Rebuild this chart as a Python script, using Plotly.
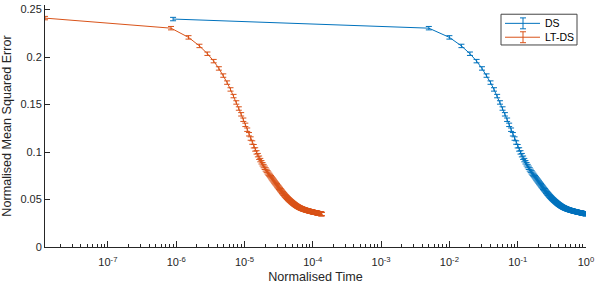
import math
import plotly.graph_objects as go

# ---------------- data ----------------
# DS: normalised time in thousandths (first value = initial evaluation)
ds_time_milli = [0.0009,
    5, 10, 15, 20, 25, 30, 35, 40, 45, 50,
    55, 60, 65, 70, 75, 80, 85, 90, 95, 100,
    105, 110, 115, 120, 125, 130, 135, 140, 145, 150,
    155, 160, 165, 170, 175, 180, 185, 190, 195, 200,
    205, 210, 215, 220, 225, 230, 235, 240, 245, 250,
    255, 260, 265, 270, 275, 280, 285, 290, 295, 300,
    305, 310, 315, 320, 325, 330, 335, 340, 345, 350,
    355, 360, 365, 370, 375, 380, 385, 390, 395, 400,
    405, 410, 415, 420, 425, 430, 435, 440, 445, 450,
    455, 460, 465, 470, 475, 480, 485, 490, 495, 500,
    505, 510, 515, 520, 525, 530, 535, 540, 545, 550,
    555, 560, 565, 570, 575, 580, 585, 590, 595, 600,
    605, 610, 615, 620, 625, 630, 635, 640, 645, 650,
    655, 660, 665, 670, 675, 680, 685, 690, 695, 700,
    705, 710, 715, 720, 725, 730, 735, 740, 745, 750,
    755, 760, 765, 770, 775, 780, 785, 790, 795, 800,
    805, 810, 815, 820, 825, 830, 835, 840, 845, 850,
    855, 860, 865, 870, 875, 880, 885, 890, 895, 900,
    905, 910, 915, 920, 925, 930, 935, 940, 945, 950,
    955, 960, 965, 970, 975, 980, 985, 990, 995, 1000]

# LT-DS: normalised time in millionths
ltds_time_micro = [0.012,
    0.840, 1.515, 2.190, 2.865, 3.540, 4.215, 4.890, 5.565, 6.240, 6.915,
    7.590, 8.265, 8.940, 9.615, 10.29, 10.965, 11.64, 12.315, 12.99, 13.665,
    14.34, 15.02, 15.69, 16.37, 17.04, 17.72, 18.39, 19.07, 19.74, 20.42,
    21.09, 21.77, 22.44, 23.12, 23.79, 24.47, 25.14, 25.82, 26.49, 27.17,
    27.8, 28.5, 29.2, 29.9, 30.5, 31.2, 31.9, 32.6, 33.2, 33.9,
    34.6, 35.3, 35.9, 36.6, 37.3, 38.0, 38.6, 39.3, 40.0, 40.7,
    41.3, 42.0, 42.7, 43.4, 44.0, 44.7, 45.4, 46.1, 46.7, 47.4,
    48.1, 48.8, 49.4, 50.1, 50.8, 51.5, 52.1, 52.8, 53.5, 54.2,
    54.8, 55.5, 56.2, 56.9, 57.5, 58.2, 58.9, 59.6, 60.2, 60.9,
    61.6, 62.3, 62.9, 63.6, 64.3, 65.0, 65.6, 66.3, 67.0, 67.7,
    68.3, 69.0, 69.7, 70.4, 71.0, 71.7, 72.4, 73.1, 73.7, 74.4,
    75.1, 75.8, 76.4, 77.1, 77.8, 78.5, 79.1, 79.8, 80.5, 81.2,
    81.8, 82.5, 83.2, 83.9, 84.5, 85.2, 85.9, 86.6, 87.2, 87.9,
    88.6, 89.3, 89.9, 90.6, 91.3, 92.0, 92.6, 93.3, 94.0, 94.7,
    95.3, 96.0, 96.7, 97.4, 98.0, 98.7, 99.4, 100.1, 100.7, 101.4,
    102.1, 102.8, 103.4, 104.1, 104.8, 105.5, 106.1, 106.8, 107.5, 108.2,
    108.8, 109.5, 110.2, 110.9, 111.5, 112.2, 112.9, 113.6, 114.2, 114.9,
    115.6, 116.3, 116.9, 117.6, 118.3, 119.0, 119.6, 120.3, 121.0, 121.7,
    122.3, 123.0, 123.7, 124.4, 125.0, 125.7, 126.4, 127.1, 127.7, 128.4,
    129.1, 129.8, 130.4, 131.1, 131.8, 132.5, 133.1, 133.8, 134.5, 135.2]

# normalised mean squared error (same per-iteration values for both methods)
ds_mse = [0.2400,
    0.2304, 0.2207, 0.2117, 0.2035, 0.1957, 0.1880, 0.1805, 0.1731, 0.1659, 0.1589,
    0.1522, 0.1458, 0.1397, 0.1340, 0.1286, 0.1235, 0.1187, 0.1142, 0.1100, 0.1061,
    0.1027, 0.0996, 0.0967, 0.0940, 0.0915, 0.0892, 0.0871, 0.0852, 0.0834, 0.0817,
    0.0801, 0.0786, 0.0772, 0.0759, 0.0747, 0.0735, 0.0723, 0.0712, 0.0701, 0.0690,
    0.0680, 0.0670, 0.0660, 0.0650, 0.0641, 0.0632, 0.0623, 0.0614, 0.0606, 0.0598,
    0.0590, 0.0582, 0.0574, 0.0567, 0.0560, 0.0554, 0.0547, 0.0541, 0.0535, 0.0529,
    0.0524, 0.0518, 0.0513, 0.0508, 0.0503, 0.0499, 0.0494, 0.0490, 0.0486, 0.0482,
    0.0478, 0.0474, 0.0471, 0.0467, 0.0463, 0.0460, 0.0457, 0.0454, 0.0450, 0.0447,
    0.0445, 0.0442, 0.0439, 0.0436, 0.0434, 0.0432, 0.0429, 0.0427, 0.0425, 0.0423,
    0.0421, 0.0419, 0.0417, 0.0416, 0.0414, 0.0412, 0.0411, 0.0409, 0.0408, 0.0406,
    0.0405, 0.0404, 0.0402, 0.0401, 0.0400, 0.03989, 0.03978, 0.03967, 0.03957, 0.03947,
    0.03937, 0.03927, 0.03918, 0.03909, 0.03900, 0.03891, 0.03882, 0.03874, 0.03866, 0.03858,
    0.03850, 0.03842, 0.03835, 0.03828, 0.03821, 0.03814, 0.03807, 0.03800, 0.03793, 0.03787,
    0.03781, 0.03775, 0.03769, 0.03763, 0.03757, 0.03751, 0.03745, 0.03739, 0.03733, 0.03727,
    0.03721, 0.03715, 0.03709, 0.03703, 0.03698, 0.03693, 0.03688, 0.03683, 0.03678, 0.03673,
    0.03668, 0.03663, 0.03658, 0.03653, 0.03648, 0.03643, 0.03638, 0.03634, 0.03630, 0.03626,
    0.03622, 0.03618, 0.03614, 0.03610, 0.03606, 0.03602, 0.03598, 0.03594, 0.03590, 0.03586,
    0.03582, 0.03578, 0.03574, 0.03570, 0.03566, 0.03562, 0.03558, 0.03554, 0.03550, 0.03546,
    0.03542, 0.03538, 0.03534, 0.03530, 0.03526, 0.03522, 0.03518, 0.03514, 0.03510, 0.03506,
    0.03502, 0.03498, 0.03494, 0.03490, 0.03486, 0.03482, 0.03478, 0.03474, 0.03470, 0.03466]
ltds_mse = [0.2410] + ds_mse[1:]

ds_std = 0.0018
ltds_std = 0.0018

series_names = ["DS", "LT-DS"]
x_tick_exponents = [-7, -6, -5, -4, -3, -2, -1, 0]
y_tick_values = [0, 0.05, 0.1, 0.15, 0.2, 0.25]
x_title = "Normalised Time"
y_title = "Normalised Mean Squared Error"

# ---------------- style ----------------
W, H = 598, 286
ML, MR, MT, MB = 45, 12, 3, 39
PW, PH = W - ML - MR, H - MT - MB
BLUE = "#0072BD"
ORANGE = "#D95319"
AX = "#262626"
FONT = "Liberation Sans, Arial, Helvetica, sans-serif"

ds_time = [v * 1e-3 for v in ds_time_milli]
ltds_time = [v * 1e-6 for v in ltds_time_micro]
all_t = ds_time + ltds_time
x_range = [math.log10(min(all_t)), math.log10(max(all_t))]

fig = go.Figure()
for name, t, m, s, c in [(series_names[0], ds_time, ds_mse, ds_std, BLUE),
                         (series_names[1], ltds_time, ltds_mse, ltds_std, ORANGE)]:
    fig.add_trace(go.Scatter(
        x=t, y=m, mode="lines", name=name, showlegend=False,
        line=dict(color=c, width=1),
        error_y=dict(type="constant", value=s, color=c, thickness=1, width=3),
    ))

minor_vals = []
for e in range(-8, 0):
    for mlt in range(2, 10):
        minor_vals.append(mlt * 10 ** e)

fig.update_xaxes(
    type="log", range=x_range,
    tickvals=[10 ** e for e in x_tick_exponents],
    ticktext=["10<sup>%d</sup>" % e for e in x_tick_exponents],
    ticks="inside", ticklen=6, tickwidth=1, tickcolor=AX,
    minor=dict(tickvals=minor_vals, ticks="inside", ticklen=3.5, tickwidth=1, tickcolor=AX),
    showline=True, linecolor=AX, linewidth=1, mirror=False,
    showgrid=False, zeroline=False,
    ticklabelstandoff=5,
    tickfont=dict(family=FONT, size=11, color=AX),
    title=dict(text=x_title, font=dict(family=FONT, size=12.6, color=AX), standoff=4),
)
fig.update_yaxes(
    range=[0, 0.2548],
    tickvals=y_tick_values,
    ticktext=["%g" % v for v in y_tick_values],
    ticks="inside", ticklen=5, tickwidth=1, tickcolor=AX,
    showline=True, linecolor=AX, linewidth=1, mirror=False,
    showgrid=False, zeroline=False,
    tickfont=dict(family=FONT, size=11, color=AX),
    title=dict(text=y_title, font=dict(family=FONT, size=12.6, color=AX), standoff=6),
)

# ---- hand-drawn legend (MATLAB style, compact) ----
def px(x):
    return (x - ML) / PW

def py(y):
    return (H - MB - y) / PH

shapes = [dict(type="rect", xref="paper", yref="paper",
               x0=px(501), x1=px(577), y0=py(43.3), y1=py(12.3),
               line=dict(color="#444444", width=1), fillcolor="white", layer="above")]
annotations = []
for (row_y, color, name) in [(21.5, BLUE, series_names[0]), (35.5, ORANGE, series_names[1])]:
    shapes.append(dict(type="line", xref="paper", yref="paper",
                       x0=px(505), x1=px(540), y0=py(row_y), y1=py(row_y),
                       line=dict(color=color, width=1)))
    shapes.append(dict(type="line", xref="paper", yref="paper",
                       x0=px(523), x1=px(523), y0=py(row_y - 5.5), y1=py(row_y + 5.5),
                       line=dict(color=color, width=1)))
    for dy in (-5.5, 5.5):
        shapes.append(dict(type="line", xref="paper", yref="paper",
                           x0=px(520), x1=px(526), y0=py(row_y + dy), y1=py(row_y + dy),
                           line=dict(color=color, width=1)))
    annotations.append(dict(xref="paper", yref="paper", x=px(542.5), y=py(row_y),
                            xanchor="left", yanchor="middle", showarrow=False,
                            text=name, font=dict(family=FONT, size=10.5, color="black")))

fig.update_layout(
    width=W, height=H, autosize=False,
    margin=dict(l=ML, r=MR, t=MT, b=MB, pad=0),
    paper_bgcolor="white", plot_bgcolor="white",
    showlegend=False, hovermode=False,
    shapes=shapes, annotations=annotations,
    font=dict(family=FONT, color=AX),
)

fig.write_html("out.html",
               config={"displayModeBar": False, "staticPlot": True},
               post_script="document.body.style.margin='0';document.body.style.overflow='hidden';")
